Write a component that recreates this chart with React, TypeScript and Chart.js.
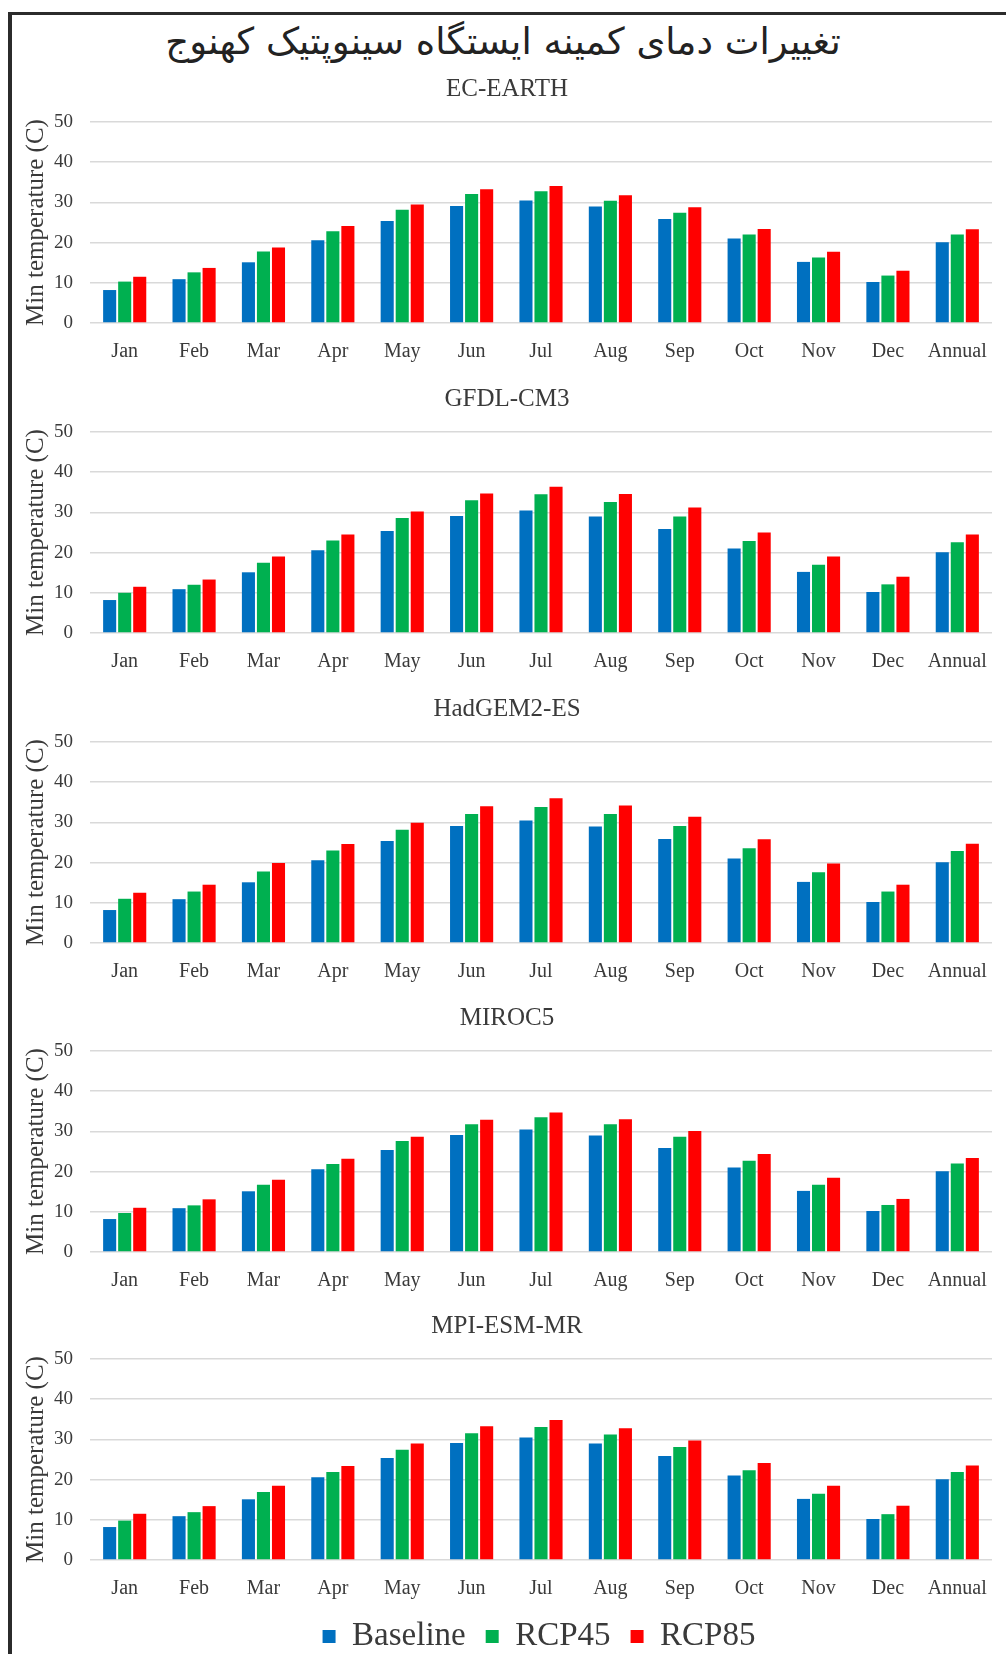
import React, { useEffect, useRef } from 'react';
import { Chart, registerables } from 'chart.js';

Chart.register(...registerables);

const mainTitle = 'تغییرات دمای کمینه ایستگاه سینوپتیک کهنوج';
const categories = ['Jan', 'Feb', 'Mar', 'Apr', 'May', 'Jun', 'Jul', 'Aug', 'Sep', 'Oct', 'Nov', 'Dec', 'Annual'];
const seriesNames = ['Baseline', 'RCP45', 'RCP85'];
const modelNames = ['EC-EARTH', 'GFDL-CM3', 'HadGEM2-ES', 'MIROC5', 'MPI-ESM-MR'];
const yAxisTitle = 'Min temperature (C)';
const yMin = 0;
const yMax = 50;
const yStep = 10;

const baseline = [8.2, 10.9, 15.1, 20.6, 25.4, 29.1, 30.5, 29.0, 25.9, 21.0, 15.2, 10.2, 20.1];

const ecEarthRcp45 = [10.3, 12.6, 17.8, 22.8, 28.2, 32.1, 32.8, 30.4, 27.4, 22.0, 16.3, 11.8, 22.0];
const ecEarthRcp85 = [11.5, 13.7, 18.8, 24.1, 29.5, 33.3, 34.1, 31.8, 28.8, 23.4, 17.7, 13.0, 23.3];

const gfdlRcp45 = [10.0, 12.0, 17.5, 23.0, 28.6, 33.0, 34.5, 32.6, 29.0, 22.9, 17.0, 12.1, 22.6];
const gfdlRcp85 = [11.5, 13.3, 19.0, 24.5, 30.2, 34.7, 36.4, 34.6, 31.2, 25.0, 19.0, 14.0, 24.5];

const hadgemRcp45 = [11.0, 12.8, 17.8, 23.0, 28.2, 32.1, 33.8, 32.1, 29.1, 23.6, 17.6, 12.8, 22.9];
const hadgemRcp85 = [12.5, 14.5, 19.9, 24.6, 29.9, 34.0, 36.0, 34.2, 31.4, 25.8, 19.8, 14.5, 24.7];

const miroc5Rcp45 = [9.7, 11.6, 16.7, 21.9, 27.6, 31.8, 33.5, 31.8, 28.7, 22.7, 16.7, 11.7, 22.0];
const miroc5Rcp85 = [11.0, 13.1, 18.0, 23.2, 28.7, 32.9, 34.7, 33.0, 30.1, 24.4, 18.5, 13.2, 23.4];

const mpiRcp45 = [9.8, 11.9, 16.9, 21.9, 27.4, 31.5, 33.1, 31.2, 28.1, 22.3, 16.5, 11.4, 21.9];
const mpiRcp85 = [11.5, 13.4, 18.5, 23.4, 29.0, 33.3, 34.8, 32.8, 29.7, 24.1, 18.5, 13.5, 23.5];

const rcp45ByModel = [ecEarthRcp45, gfdlRcp45, hadgemRcp45, miroc5Rcp45, mpiRcp45];
const rcp85ByModel = [ecEarthRcp85, gfdlRcp85, hadgemRcp85, miroc5Rcp85, mpiRcp85];

const COLORS = ['#0070C0', '#00B050', '#FF0000'];
const SERIF = '"Liberation Serif", "Times New Roman", serif';
const TEXT = '#3a3a3a';

const PANEL_TOPS = [72, 382, 692, 1001, 1309];
const PANEL_H = 309;
const PAD_L = 22;
const PAD_R = 14;

type PanelProps = { index: number };

function Panel({ index }: PanelProps) {
  const ref = useRef<HTMLCanvasElement | null>(null);

  useEffect(() => {
    if (!ref.current) return;
    const values = [baseline, rcp45ByModel[index], rcp85ByModel[index]];
    const chart = new Chart(ref.current, {
      type: 'bar',
      data: {
        labels: categories,
        datasets: seriesNames.map((name, i) => ({
          label: name,
          data: values[i],
          backgroundColor: COLORS[i],
          borderWidth: 0,
          categoryPercentage: 0.65,
          barPercentage: 0.87,
        })),
      },
      options: {
        responsive: false,
        animation: false,
        devicePixelRatio: 1,
        layout: { padding: { left: PAD_L, right: PAD_R, top: 0, bottom: 0 } },
        plugins: {
          title: {
            display: true,
            text: modelNames[index],
            color: TEXT,
            font: { family: SERIF, size: 25, weight: 'normal' },
            padding: { top: 2, bottom: 18 },
          },
          legend: { display: false },
          tooltip: { enabled: false },
        },
        scales: {
          x: {
            grid: { display: false },
            border: { display: false },
            ticks: {
              color: TEXT,
              font: { family: SERIF, size: 20 },
              padding: 9,
              maxRotation: 0,
              autoSkip: false,
            },
            afterFit: (s: any) => {
              s.height = PANEL_H - 50 - 201;
            },
          },
          y: {
            min: yMin,
            max: yMax,
            ticks: {
              stepSize: yStep,
              color: TEXT,
              font: { family: SERIF, size: 19 },
              padding: 17,
            },
            grid: { color: '#d9d9d9', lineWidth: 1.5, drawTicks: false },
            border: { display: false },
            title: {
              display: true,
              text: yAxisTitle,
              color: TEXT,
              font: { family: SERIF, size: 25 },
              padding: { top: -1, bottom: 0 },
            },
            afterFit: (s: any) => {
              s.width = 90 - PAD_L;
            },
          },
        },
      },
    } as any);
    return () => chart.destroy();
  }, [index]);

  return (
    <canvas
      ref={ref}
      width={1006}
      height={PANEL_H}
      style={{ position: 'absolute', left: 0, top: PANEL_TOPS[index], width: 1006, height: PANEL_H }}
    />
  );
}

const LEG_W = 640;
const LEG_H = 120;

function LegendChart() {
  const ref = useRef<HTMLCanvasElement | null>(null);
  useEffect(() => {
    if (!ref.current) return;
    const chart = new Chart(ref.current, {
      type: 'bar',
      data: {
        labels: categories,
        datasets: seriesNames.map((name, i) => ({
          label: name,
          data: [],
          backgroundColor: COLORS[i],
          borderWidth: 0,
        })),
      },
      options: {
        responsive: false,
        animation: false,
        devicePixelRatio: 1,
        layout: { padding: 0 },
        plugins: {
          title: { display: false },
          tooltip: { enabled: false },
          legend: {
            display: true,
            position: 'top',
            labels: {
              color: TEXT,
              font: { family: SERIF, size: 33 },
              boxWidth: 13,
              boxHeight: 13,
              padding: 20,
            },
          },
        },
        scales: { x: { display: false }, y: { display: false } },
      },
    } as any);
    return () => chart.destroy();
  }, []);
  return (
    <canvas
      ref={ref}
      width={LEG_W}
      height={LEG_H}
      style={{ position: 'absolute', left: 539 - LEG_W / 2, top: 1600, width: LEG_W, height: LEG_H }}
    />
  );
}

export default function App() {
  return (
    <div style={{ position: 'absolute', left: 0, top: 0, width: 1006, height: 1654, background: '#fff', overflow: 'hidden' }}>
      <div
        style={{
          position: 'absolute',
          left: 8,
          top: 12,
          width: 1006 - 8,
          height: 1654 - 12,
          borderTop: '3px solid #2b2b2b',
          borderLeft: '4px solid #2b2b2b',
          boxSizing: 'border-box',
        }}
      />
      <div
        dir="rtl"
        style={{
          position: 'absolute',
          left: 0,
          width: 1006,
          top: 18,
          height: 48,
          lineHeight: '48px',
          textAlign: 'center',
          fontFamily: '"DejaVu Sans", sans-serif',
          fontSize: 37,
          color: '#222',
        }}
      >
        {mainTitle}
      </div>
      {modelNames.map((_, i) => (
        <Panel key={i} index={i} />
      ))}
      <LegendChart />
    </div>
  );
}
